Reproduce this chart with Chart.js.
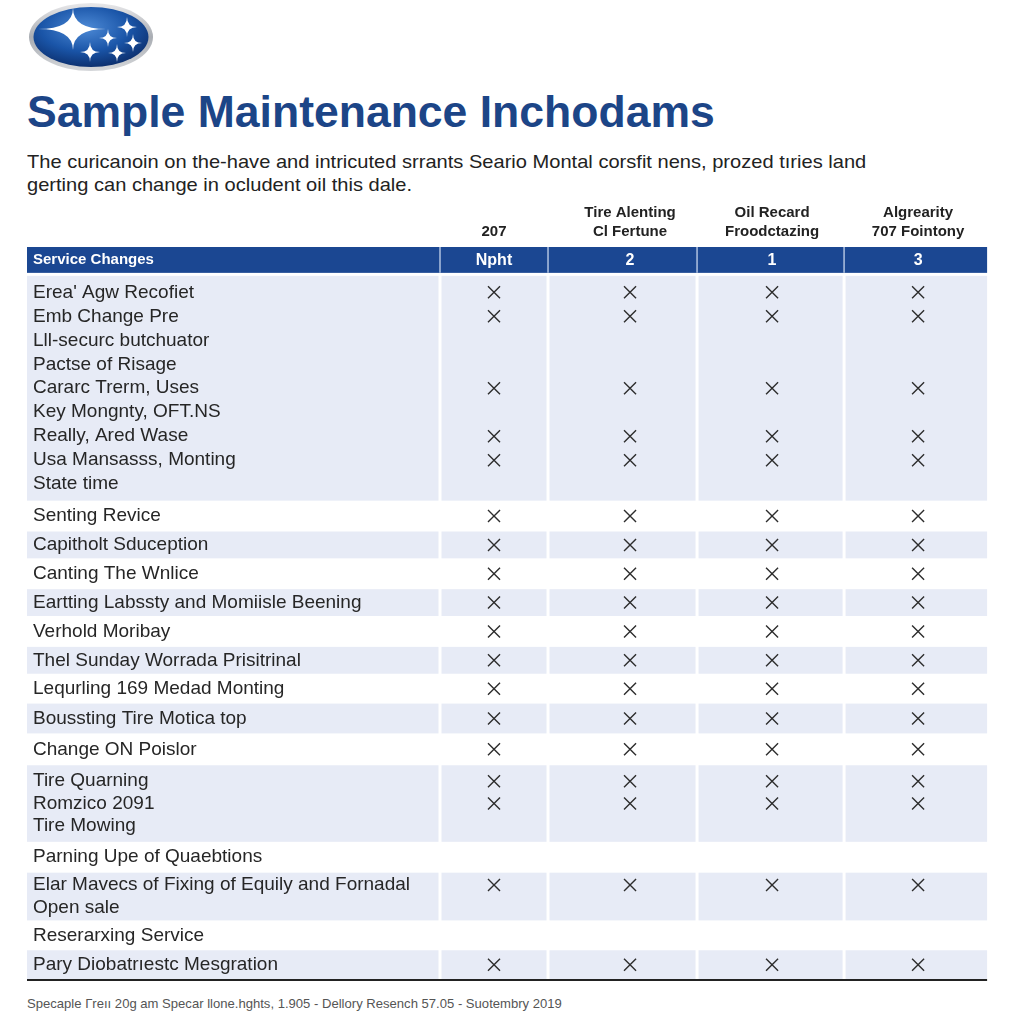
<!DOCTYPE html>
<html lang="en">
<head>
<meta charset="UTF-8">
<title>Sample Maintenance Inchodams</title>
<script src="https://cdn.jsdelivr.net/npm/chart.js"></script>
<style>
  body { margin: 0; width: 1024px; height: 1024px; background: #fff; position: relative; overflow: hidden;
         font-family: 'Liberation Sans', Arial, sans-serif; }
  #logo { position: absolute; left: 27px; top: 2px; }
  #title { position: absolute; left: 27px; top: 88px; font-size: 44px; line-height: 48px; font-weight: bold;
           color: #1c4587; white-space: nowrap; transform-origin: left top; }
  .sub { position: absolute; left: 27px; font-size: 19px; line-height: 23px; color: #222;
         white-space: nowrap; transform-origin: left top; }
  #chartBox { position: absolute; left: 27px; top: 190px; }
  #footer { position: absolute; left: 27px; top: 996px; font-size: 13px; line-height: 16px; color: #555;
            white-space: nowrap; transform-origin: left top; }
</style>
</head>
<body>

<svg id="logo" width="130" height="72" viewBox="27 2 130 72">
  <defs>
    <linearGradient id="rim" x1="0" y1="0" x2="0" y2="1">
      <stop offset="0" stop-color="#e8e8ea"/>
      <stop offset="0.5" stop-color="#a9adb3"/>
      <stop offset="1" stop-color="#d5d7da"/>
    </linearGradient>
    <radialGradient id="face" cx="0.45" cy="0.35" r="0.7">
      <stop offset="0" stop-color="#4d8ad6"/>
      <stop offset="0.55" stop-color="#1a55a8"/>
      <stop offset="1" stop-color="#0a2a66"/>
    </radialGradient>
  </defs>
  <ellipse cx="91" cy="37" rx="62" ry="34" fill="url(#rim)"/>
  <ellipse cx="91" cy="37" rx="57.5" ry="30" fill="url(#face)"/>
  <g fill="#fff">
    <path d="M38 29 Q73 29 73 8 Q73 29 106 29 Q73 29 73 50 Q73 29 38 29 Z"/>
    <path d="M117 27 Q127 27 127 17 Q127 27 137 27 Q127 27 127 37 Q127 27 117 27 Z"/>
    <path d="M99 38 Q108 38 108 29 Q108 38 117 38 Q108 38 108 47 Q108 38 99 38 Z"/>
    <path d="M124 43 Q133 43 133 34 Q133 43 142 43 Q133 43 133 52 Q133 43 124 43 Z"/>
    <path d="M80 52 Q90 52 90 42 Q90 52 100 52 Q90 52 90 62 Q90 52 80 52 Z"/>
    <path d="M108 53 Q117 53 117 44 Q117 53 126 53 Q117 53 117 62 Q117 53 108 53 Z"/>
  </g>
</svg>

<div id="title">Sample Maintenance Inchodams</div>
<div class="sub" id="sub1" style="top:150px">The curicanoin on the-have and intricuted srrants Seario Montal corsfit nens, prozed tıries land</div>
<div class="sub" id="sub2" style="top:173px">gerting can change in ocludent oil this dale.</div>

<div id="chartBox"><canvas id="tableChart" width="970" height="800"></canvas></div>

<div id="footer">Specaple Γreıı 20g am Specar llone.hghts, 1.905 - Dellory Resench 57.05 - Suotembry 2019</div>

<script>
// column headings above the blue bar and codes inside it
const columnTitles = [['207'], ['Tire Alenting', 'Cl Fertune'], ['Oil Recard', 'Froodctazing'], ['Algrearity', '707 Fointony']];
const headerLabel = 'Service Changes';
const columnCodes = ['Npht', '2', '1', '3'];

// service rows, each one a list of text lines
const serviceRows = [
  ["Erea' Agw Recofiet", 'Emb Change Pre', 'Lll-securc butchuator', 'Pactse of Risage', 'Cararc Trerm, Uses',
   'Key Mongnty, OFT.NS', 'Really, Ared Wase', 'Usa Mansasss, Monting', 'State time'],
  ['Senting Revice'],
  ['Capitholt Sduception'],
  ['Canting The Wnlice'],
  ['Eartting Labssty and Momiisle Beening'],
  ['Verhold Moribay'],
  ['Thel Sunday Worrada Prisitrinal'],
  ['Lequrling 169 Medad Monting'],
  ['Boussting Tire Motica top'],
  ['Change ON Poislor'],
  ['Tire Quarning', 'Romzico 2091', 'Tire Mowing'],
  ['Parning Upe of Quaebtions'],
  ['Elar Mavecs of Fixing of Equily and Fornadal', 'Open sale'],
  ['Reserarxing Service'],
  ['Pary Diobatrıestc Mesgration']
];
// 1 = an X in every column on that line
const serviceMarks = [
  [1, 1, 0, 0, 1, 0, 1, 1, 0],
  [1], [1], [1], [1], [1], [1], [1], [1], [1],
  [1, 1, 0],
  [0],
  [1, 0],
  [0],
  [1]
];

// layout (px)
const labelColWidth = 413;
const colEdges = [0, 108, 257, 404, 547];
const colCenters = [54, 190, 332, 478];
const headerHeight = 26, headerGap = 2;
const rowHeights = [228, 29, 29, 29, 29, 29, 29, 28, 32, 30, 79, 29, 50, 28, 31];
const rowSpacing = [24.1, 0, 0, 0, 0, 0, 0, 0, 0, 0, 22.5, 0, 23, 0, 0];
const FONT = "'Liberation Sans', Arial, sans-serif";

const yTicks = [{ value: headerHeight / 2, label: headerLabel }];
const rowBoxes = [];
const marks = [];
let rowTop = headerHeight + headerGap;
serviceRows.forEach((lines, r) => {
  const h = rowHeights[r], s = rowSpacing[r];
  const first = rowTop + (h - (lines.length - 1) * s) / 2;
  lines.forEach((text, k) => {
    const y = first + k * s;
    yTicks.push({ value: y, label: text });
    if (serviceMarks[r][k]) colCenters.forEach(cx => marks.push({ x: cx, y: y }));
  });
  rowBoxes.push({ top: rowTop, bottom: rowTop + h, shaded: r % 2 === 0 });
  rowTop += h;
});
const tableEnd = rowTop;
const labelByValue = new Map(yTicks.map(t => [t.value, t.label]));

const tableBands = {
  id: 'tableBands',
  beforeDraw(chart) {
    const { ctx, chartArea: a, scales: { x, y } } = chart;
    const left = a.left - labelColWidth;
    const edges = colEdges.map(v => x.getPixelForValue(v));
    ctx.save();
    ctx.fillStyle = '#e7ebf6';
    rowBoxes.forEach(b => {
      if (!b.shaded) return;
      const t = y.getPixelForValue(b.top) + 1, btm = y.getPixelForValue(b.bottom) - 1;
      ctx.fillRect(left, t, a.left - 1.5 - left, btm - t);
      for (let c = 0; c < 4; c++) {
        const l = edges[c] + 1.5, r = c === 3 ? edges[4] : edges[c + 1] - 1.5;
        ctx.fillRect(l, t, r - l, btm - t);
      }
    });
    // blue header bar
    const ht = y.getPixelForValue(0), hb = y.getPixelForValue(headerHeight);
    ctx.fillStyle = '#1b4792';
    ctx.fillRect(left, ht, a.right - left, hb - ht);
    ctx.strokeStyle = 'rgba(225,235,250,0.75)';
    ctx.lineWidth = 1.5;
    ctx.beginPath();
    for (let c = 0; c < 4; c++) {
      ctx.moveTo(edges[c], ht);
      ctx.lineTo(edges[c], hb);
    }
    ctx.stroke();
    ctx.fillStyle = '#fff';
    ctx.font = 'bold 16px ' + FONT;
    ctx.textAlign = 'center';
    ctx.textBaseline = 'middle';
    columnCodes.forEach((t, i) => ctx.fillText(t, x.getPixelForValue(colCenters[i]), (ht + hb) / 2 + 1));
    // bottom rule
    ctx.strokeStyle = '#222';
    ctx.lineWidth = 2;
    ctx.beginPath();
    ctx.moveTo(left, a.bottom);
    ctx.lineTo(a.right, a.bottom);
    ctx.stroke();
    ctx.restore();
  }
};

new Chart(document.getElementById('tableChart'), {
  type: 'scatter',
  data: {
    datasets: [{
      data: marks,
      pointStyle: 'crossRot',
      pointRadius: 8.5,
      pointHoverRadius: 8.5,
      borderColor: '#2d2d2d',
      borderWidth: 1.4,
      backgroundColor: '#2d2d2d'
    }]
  },
  options: {
    responsive: false,
    animation: false,
    events: [],
    layout: { padding: { left: 6, right: 4, top: 0, bottom: 6 } },
    plugins: { legend: { display: false }, tooltip: { enabled: false } },
    scales: {
      x: {
        type: 'linear',
        position: 'top',
        min: 0,
        max: colEdges[colEdges.length - 1],
        grid: { display: false, drawTicks: false },
        border: { display: false },
        afterBuildTicks: s => { s.ticks = colCenters.map(v => ({ value: v })); },
        afterFit: s => { s.height = 57; },
        ticks: {
          autoSkip: false,
          maxRotation: 0,
          padding: 6,
          color: '#222',
          font: { family: FONT, size: 15, weight: 'bold', lineHeight: 1.25 },
          callback: (v, i) => columnTitles[i]
        }
      },
      y: {
        type: 'linear',
        position: 'left',
        reverse: true,
        min: 0,
        max: tableEnd,
        grid: { display: false, drawTicks: false },
        border: { display: false },
        afterBuildTicks: s => { s.ticks = yTicks.map(t => ({ value: t.value })); },
        afterFit: s => { s.width = labelColWidth - 6; },
        ticks: {
          autoSkip: false,
          crossAlign: 'far',
          padding: 0,
          color: c => c.index === 0 ? '#fff' : '#262626',
          font: c => c.index === 0
            ? { family: FONT, size: 15, weight: 'bold' }
            : { family: FONT, size: 19 },
          callback: v => labelByValue.get(v)
        }
      }
    }
  },
  plugins: [tableBands]
});

// squeeze the html text lines to the widths in the picture
function fitWidth(el, w) {
  const k = w / el.offsetWidth;
  el.style.transform = 'scaleX(' + k + ')';
  return k;
}
fitWidth(document.getElementById('title'), 688);
const k = fitWidth(document.getElementById('sub1'), 839);
document.getElementById('sub2').style.transform = 'scaleX(' + k + ')';
fitWidth(document.getElementById('footer'), 535);
</script>

</body>
</html>
